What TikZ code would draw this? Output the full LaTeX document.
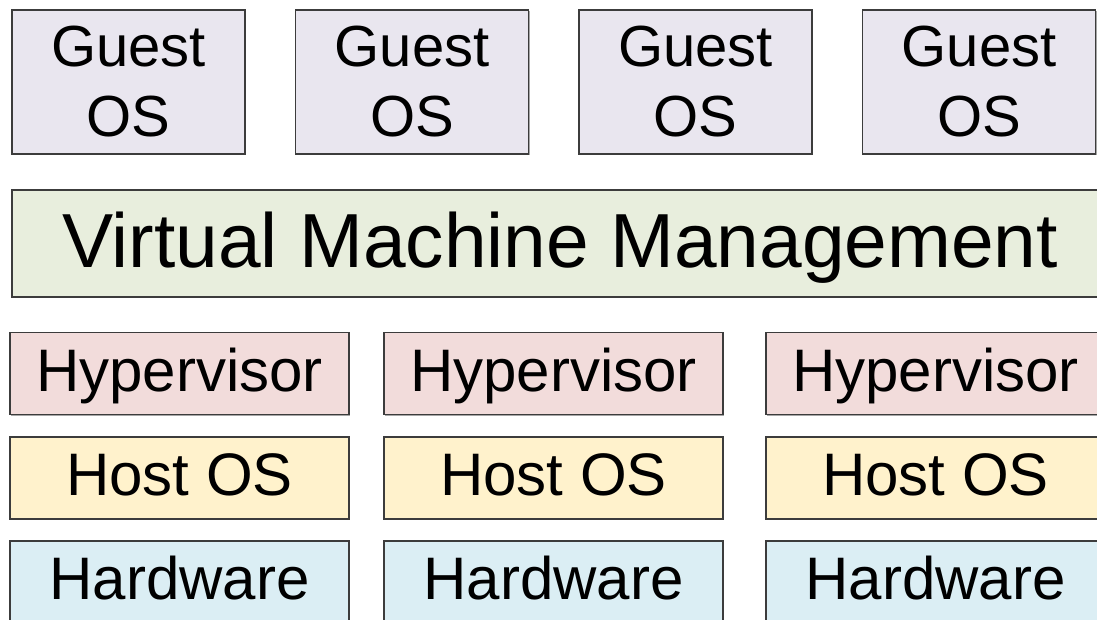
\documentclass[tikz,border=0pt]{standalone}
\usepackage{fontspec}
\setmainfont{Liberation Sans}
\usetikzlibrary{shadows}
\definecolor{guestfill}{HTML}{E9E6EF}
\definecolor{vmmfill}{HTML}{E8EEDD}
\definecolor{hypfill}{HTML}{F2DCDB}
\definecolor{hostfill}{HTML}{FFF2CC}
\definecolor{hwfill}{HTML}{DBEEF4}
\definecolor{edge}{HTML}{3C3C3C}
\tikzset{
  layer/.style={draw=edge, line width=1.1pt, inner sep=0pt, align=center,
    drop shadow={shadow xshift=0.9pt, shadow yshift=-0.9pt, opacity=0.35, fill=black}},
  guestbox/.style={layer, fill=guestfill, minimum width=174.75pt, minimum height=108pt,
    font=\fontsize{43.5pt}{52.5pt}\selectfont},
  vmmbox/.style={layer, fill=vmmfill, minimum width=822pt, minimum height=80.25pt,
    font=\fontsize{57.5pt}{68pt}\selectfont, text height=47.25pt, text depth=12pt},
  tierbox/.style={layer, minimum width=254.25pt, minimum height=61.5pt,
    font=\fontsize{45pt}{54pt}\selectfont, text height=35.5pt, text depth=9pt}
}
\begin{document}
\begin{tikzpicture}[x=0.75pt, y=-0.75pt]
  \useasboundingbox (0,0) rectangle (1097,619);

  % guest operating systems
  \node[guestbox] (g1) at (128.5,82) {Guest\\OS};
  \node[guestbox] (g2) at (412,82)   {Guest\\OS};
  \node[guestbox] (g3) at (695.5,82) {Guest\\OS};
  \node[guestbox] (g4) at (979,82)   {Guest\\OS};

  % management layer
  \node[vmmbox] (vmm) at (560,243.5) {Virtual Machine Management};

  % per-host stacks
  \foreach \cx/\n in {179.5/1, 553.5/2, 935.5/3} {
    \node[tierbox, fill=hypfill]  (hyp\n)  at (\cx,373.5) {Hypervisor};
    \node[tierbox, fill=hostfill] (host\n) at (\cx,478)   {Host OS};
    \node[tierbox, fill=hwfill]   (hw\n)   at (\cx,582)   {Hardware};
  }
\end{tikzpicture}
\end{document}
